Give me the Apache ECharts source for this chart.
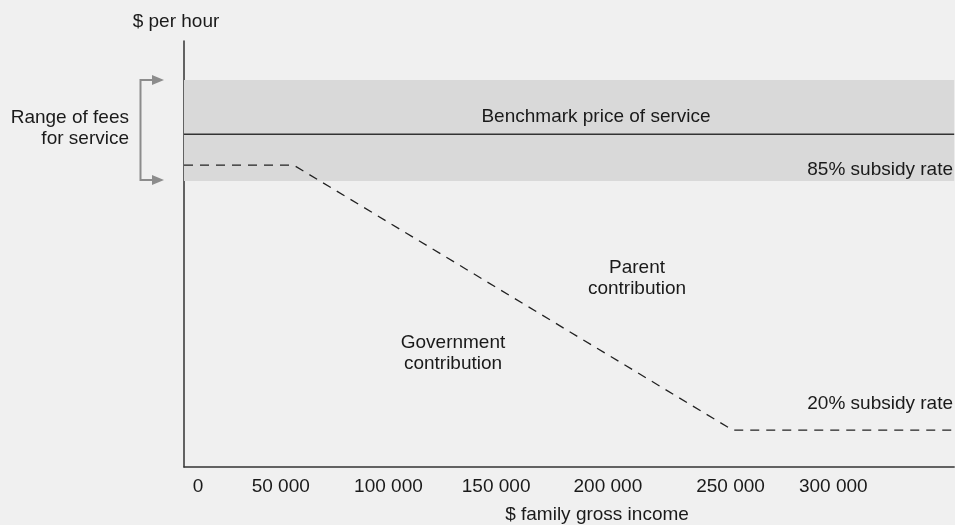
<!DOCTYPE html>
<html>
<head>
<meta charset="utf-8">
<script src="https://cdn.jsdelivr.net/npm/echarts@6/dist/echarts.min.js"></script>
<style>
html,body{margin:0;padding:0;background:#f0f0f0;}
#chart{width:955px;height:525px;}
</style>
</head>
<body>
<div id="chart"></div>
<script>
// ---- data ----
var xTickLabels = [0, 50000, 100000, 150000, 200000, 250000, 300000];
var benchmarkPrice = [[0, 10], [351000, 10]];
var feeRange = [8.59, 11.63];
var governmentContribution = [[0, 9.07], [50000, 9.07], [250000, 1.11], [351000, 1.11]];

var FONT = '"Liberation Sans", Arial, Helvetica, sans-serif';
var TXT = '#1a1a1a';

var chart = echarts.init(document.getElementById('chart'), null, {renderer: 'canvas'});

function fmtNum(v) {
  return String(v).replace(/\B(?=(\d{3})+(?!\d))/g, ' ');
}

// label nudges (style only): left/right padding per label slot
var labelPad = [[0, 0, 0, 28], [0, 26, 0, 0], [0, 30, 0, 0], [0, 34, 0, 0], [0, 30, 0, 0], [0, 4, 0, 0], [0, 18, 0, 0]];
var rich = {};
labelPad.forEach(function (p, i) {
  rich['r' + i] = {fontSize: 19, fontFamily: FONT, color: TXT, padding: p};
});

var option = {
  backgroundColor: '#f0f0f0',
  animation: false,
  grid: {left: 184, right: 0, top: 41, bottom: 58, containLabel: false},
  xAxis: {
    type: 'value',
    min: 0,
    max: 351000,
    interval: 50000,
    axisLine: {show: true, lineStyle: {color: '#333', width: 1.5}},
    axisTick: {show: false},
    splitLine: {show: false},
    axisLabel: {
      margin: 10,
      showMaxLabel: false,
      formatter: function (v) {
        var i = xTickLabels.indexOf(v);
        if (i < 0) return '';
        return '{r' + i + '|' + fmtNum(v) + '}';
      },
      rich: rich
    }
  },
  yAxis: {
    type: 'value',
    min: 0,
    max: 12.8,
    axisLine: {show: true, lineStyle: {color: '#333', width: 1.5}},
    axisTick: {show: false},
    axisLabel: {show: false},
    splitLine: {show: false}
  },
  series: [
    {
      type: 'line',
      name: 'Benchmark price of service',
      data: benchmarkPrice,
      symbol: 'none',
      z: 3,
      lineStyle: {color: '#333', width: 1.6},
      markArea: {
        silent: true,
        itemStyle: {color: '#d9d9d9'},
        data: [[{yAxis: feeRange[0]}, {yAxis: feeRange[1]}]]
      }
    },
    {
      type: 'line',
      name: 'Government contribution',
      data: governmentContribution,
      symbol: 'none',
      z: 4,
      lineStyle: {color: '#222', width: 1.3, type: [9, 7]}
    }
  ],
  graphic: [
    {type: 'text', x: 176, y: 12, style: {text: '$ per hour', font: '19px ' + FONT, fill: TXT, align: 'center'}},
    {type: 'text', x: 129, y: 108, style: {text: 'Range of fees', font: '19px ' + FONT, fill: TXT, align: 'right'}},
    {type: 'text', x: 129, y: 129, style: {text: 'for service', font: '19px ' + FONT, fill: TXT, align: 'right'}},
    {type: 'polyline', shape: {points: [[154, 80], [140.5, 80], [140.5, 180], [154, 180]]}, style: {stroke: '#8c8c8c', lineWidth: 2, fill: null}},
    {type: 'polygon', shape: {points: [[152, 75], [164, 80], [152, 85]]}, style: {fill: '#8c8c8c'}},
    {type: 'polygon', shape: {points: [[152, 175], [164, 180], [152, 185]]}, style: {fill: '#8c8c8c'}},
    {type: 'text', x: 596, y: 107, style: {text: 'Benchmark price of service', font: '19px ' + FONT, fill: TXT, align: 'center'}, z: 10},
    {type: 'text', x: 953, y: 160, style: {text: '85% subsidy rate', font: '19px ' + FONT, fill: TXT, align: 'right'}, z: 10},
    {type: 'text', x: 637, y: 258, style: {text: 'Parent', font: '19px ' + FONT, fill: TXT, align: 'center'}},
    {type: 'text', x: 637, y: 279, style: {text: 'contribution', font: '19px ' + FONT, fill: TXT, align: 'center'}},
    {type: 'text', x: 453, y: 333, style: {text: 'Government', font: '19px ' + FONT, fill: TXT, align: 'center'}},
    {type: 'text', x: 453, y: 354, style: {text: 'contribution', font: '19px ' + FONT, fill: TXT, align: 'center'}},
    {type: 'text', x: 953, y: 394, style: {text: '20% subsidy rate', font: '19px ' + FONT, fill: TXT, align: 'right'}},
    {type: 'text', x: 597, y: 505, style: {text: '$ family gross income', font: '19px ' + FONT, fill: TXT, align: 'center'}}
  ]
};
chart.setOption(option);
</script>
</body>
</html>
